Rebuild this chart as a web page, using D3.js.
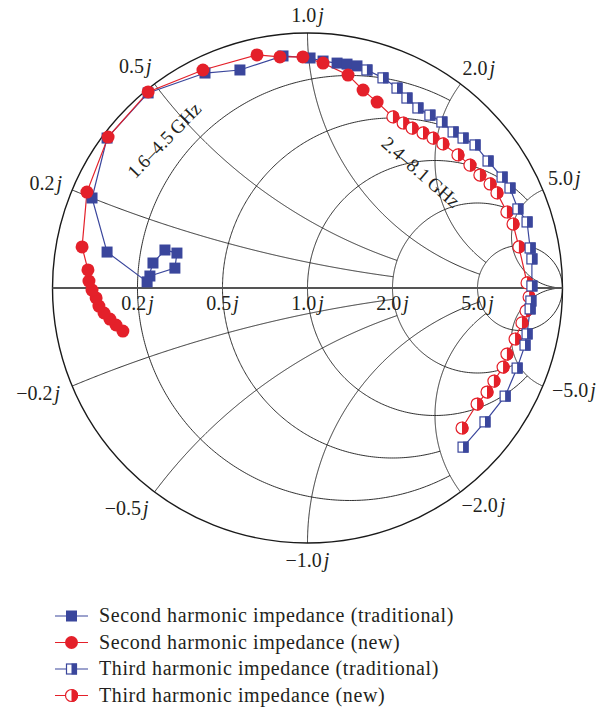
<!DOCTYPE html>
<html>
<head>
<meta charset="utf-8">
<script src="https://cdnjs.cloudflare.com/ajax/libs/d3/7.8.5/d3.min.js"></script>
<style>
body { margin: 0; background: #fff; }
svg text { font-family: "Liberation Serif", "Times New Roman", serif; fill: #231f20; }
</style>
</head>
<body>
<svg id="chart" width="610" height="710"></svg>
<script>
// reflection coefficient readings [re, im], one array per series
const secondTrad = [
  [-0.618, 0.047], [-0.520, 0.078], [-0.512, 0.137], [-0.559, 0.149], [-0.606, 0.098], [-0.629, 0.024],
  [-0.786, 0.141], [-0.845, 0.353], [-0.786, 0.588], [-0.625, 0.765], [-0.402, 0.843], [-0.265, 0.855],
  [-0.096, 0.910], [0.010, 0.902], [0.061, 0.890], [0.116, 0.882], [0.155, 0.878], [0.194, 0.871]
];
const secondNew = [
  [-0.724, -0.169], [-0.751, -0.145], [-0.775, -0.122], [-0.798, -0.098], [-0.818, -0.071], [-0.829, -0.039],
  [-0.845, -0.008], [-0.857, 0.027], [-0.861, 0.071], [-0.884, 0.161], [-0.865, 0.376], [-0.782, 0.592],
  [-0.625, 0.769], [-0.410, 0.855], [-0.198, 0.914], [-0.108, 0.906], [-0.018, 0.906], [0.061, 0.882],
  [0.159, 0.835], [0.218, 0.776], [0.273, 0.729]
];
const thirdTrad = [
  [0.233, 0.855], [0.296, 0.824], [0.351, 0.784], [0.390, 0.745], [0.433, 0.706], [0.480, 0.678],
  [0.527, 0.651], [0.571, 0.612], [0.610, 0.588], [0.657, 0.561], [0.708, 0.498], [0.763, 0.435],
  [0.794, 0.392], [0.825, 0.310], [0.861, 0.259], [0.873, 0.157], [0.880, 0.114], [0.880, 0.008],
  [0.876, -0.051], [0.873, -0.082], [0.861, -0.180], [0.853, -0.224], [0.822, -0.314], [0.775, -0.424],
  [0.696, -0.525], [0.610, -0.624]
];
const thirdNew = [
  [0.335, 0.671], [0.375, 0.647], [0.410, 0.627], [0.453, 0.608], [0.492, 0.588], [0.531, 0.565],
  [0.590, 0.522], [0.637, 0.482], [0.676, 0.443], [0.716, 0.408], [0.743, 0.373], [0.782, 0.298],
  [0.806, 0.251], [0.829, 0.161], [0.861, 0.020], [0.869, -0.035], [0.857, -0.090], [0.841, -0.137],
  [0.814, -0.200], [0.782, -0.259], [0.767, -0.310], [0.731, -0.365], [0.704, -0.408], [0.665, -0.455],
  [0.606, -0.549]
];

// smith chart grid: value and where its circle / arc stops
const gridValues = [0.2, 0.5, 1, 2, 5];
const gridStops = [2, 2, 5, 5, Infinity];
const gridLabels = ["0.2", "0.5", "1.0", "2.0", "5.0"];

const legendNames = [
  "Second harmonic impedance (traditional)",
  "Second harmonic impedance (new)",
  "Third harmonic impedance (traditional)",
  "Third harmonic impedance (new)"
];

const blue = "#3a469c";
const red = "#e4202a";

const svg = d3.select("#chart");
const cx = 307.5, cy = 288, R = 255;

const x = d3.scaleLinear().domain([-1, 1]).range([cx - R, cx + R]);
const y = d3.scaleLinear().domain([-1, 1]).range([cy + R, cy - R]);

// normalised impedance -> reflection coefficient
function gamma(r, xx) {
  const d = (r + 1) * (r + 1) + xx * xx;
  return [(r * r + xx * xx - 1) / d, 2 * xx / d];
}

const line = d3.line().x(d => x(d[0])).y(d => y(d[1]));
const N = 400;

const grid = svg.append("g").attr("fill", "none").attr("stroke", "#1a1a1a").attr("stroke-width", 0.9);

gridValues.forEach((v, i) => {
  const lim = Math.min(Math.atan(gridStops[i]), Math.PI / 2 - 1e-4);
  // resistance circle
  const pts = d3.range(N + 1).map(k => gamma(v, Math.tan(-lim + 2 * lim * k / N)));
  grid.append("path").attr("d", line(pts));
  // reactance arcs, both signs
  [1, -1].forEach(s => {
    const arc = d3.range(N + 1).map(k => gamma(Math.tan(lim * k / N), s * v));
    grid.append("path").attr("d", line(arc));
  });
});

// outer circle and real axis
svg.append("circle").attr("cx", x(0)).attr("cy", y(0)).attr("r", x(1) - x(0))
  .attr("fill", "none").attr("stroke", "#1a1a1a").attr("stroke-width", 1.4);
svg.append("line").attr("x1", x(-1)).attr("x2", x(1)).attr("y1", y(0)).attr("y2", y(0))
  .attr("stroke", "#555").attr("stroke-width", 2);

function jLabel(g, px, py, txt, anchor) {
  const t = g.append("text").attr("x", px).attr("y", py).attr("text-anchor", anchor)
    .style("font-size", "20px");
  t.append("tspan").text(txt);
  t.append("tspan").attr("dx", 2).style("font-style", "italic").text("j");
}

const labels = svg.append("g");
// resistance labels under the axis
gridValues.forEach((v, i) => {
  const g0 = gamma(v, 0);
  jLabel(labels, x(g0[0]), y(0) + 22, gridLabels[i], "middle");
});
// reactance labels round the rim: [dx, dy] offsets from the rim point
const posOff = [[-10, 0, "end"], [-3, -11, "end"], [0, -11, "middle"], [2, -9, "start"], [5, -5, "start"]];
const negOff = [[-12, 14, "end"], [-6, 23, "end"], [0, 24, "middle"], [1, 20, "start"], [9, 11, "start"]];
gridValues.forEach((v, i) => {
  const gp = gamma(0, v), gn = gamma(0, -v);
  jLabel(labels, x(gp[0]) + posOff[i][0], y(gp[1]) + posOff[i][1], gridLabels[i], posOff[i][2]);
  jLabel(labels, x(gn[0]) + negOff[i][0], y(gn[1]) + negOff[i][1], "\u2212" + gridLabels[i], negOff[i][2]);
});

// band annotations
svg.append("text").attr("transform", "translate(164,140) rotate(-46)")
  .attr("text-anchor", "middle").attr("dy", "0.35em").style("font-size", "19px")
  .text("1.6\u20134.5\u2009GHz");
svg.append("text").attr("transform", "translate(421,172) rotate(41)")
  .attr("text-anchor", "middle").attr("dy", "0.35em").style("font-size", "19px")
  .text("2.4\u20138.1\u2009GHz");

// marker painters
function fullSquare(g) {
  g.append("rect").attr("x", -5.5).attr("y", -5.5).attr("width", 11).attr("height", 11).attr("fill", blue);
}
function halfSquare(g) {
  g.append("rect").attr("x", -5).attr("y", -5).attr("width", 10).attr("height", 10)
    .attr("fill", "#fff").attr("stroke", blue).attr("stroke-width", 1.2);
  g.append("rect").attr("x", 0).attr("y", -5.5).attr("width", 5.5).attr("height", 11).attr("fill", blue);
}
function fullCircle(g) {
  g.append("circle").attr("r", 6.5).attr("fill", red);
}
function halfCircle(g) {
  g.append("circle").attr("r", 6).attr("fill", "#fff").attr("stroke", red).attr("stroke-width", 1.2);
  g.append("path").attr("d", "M0,-6.6A6.6,6.6 0 0,1 0,6.6Z").attr("fill", red);
}

// connecting lines (traditional and new sweeps run on from 2nd into 3rd harmonic)
svg.append("path").attr("d", line(secondTrad.concat(thirdTrad)))
  .attr("fill", "none").attr("stroke", blue).attr("stroke-width", 1.2);
svg.append("path").attr("d", line(secondNew.concat(thirdNew)))
  .attr("fill", "none").attr("stroke", red).attr("stroke-width", 1.2);

const series = [
  { data: secondTrad, mark: fullSquare },
  { data: secondNew, mark: fullCircle },
  { data: thirdNew, mark: halfCircle },
  { data: thirdTrad, mark: halfSquare }
];
series.forEach(s => {
  svg.append("g").selectAll("g").data(s.data).enter().append("g")
    .attr("transform", d => `translate(${x(d[0])},${y(d[1])})`)
    .each(function() { s.mark(d3.select(this)); });
});

// legend
const legendMarks = [fullSquare, fullCircle, halfSquare, halfCircle];
const legendColors = [blue, red, blue, red];
const legend = svg.append("g");
legendNames.forEach((name, i) => {
  const ly = 616 + i * 26.5;
  legend.append("line").attr("x1", 55).attr("x2", 88).attr("y1", ly).attr("y2", ly)
    .attr("stroke", legendColors[i]).attr("stroke-width", 1.2);
  legendMarks[i](legend.append("g").attr("transform", `translate(71.5,${ly})`));
  legend.append("text").attr("x", 99).attr("y", ly + 6).style("font-size", "20px")
    .style("letter-spacing", "0.6px").text(name);
});
</script>
</body>
</html>
